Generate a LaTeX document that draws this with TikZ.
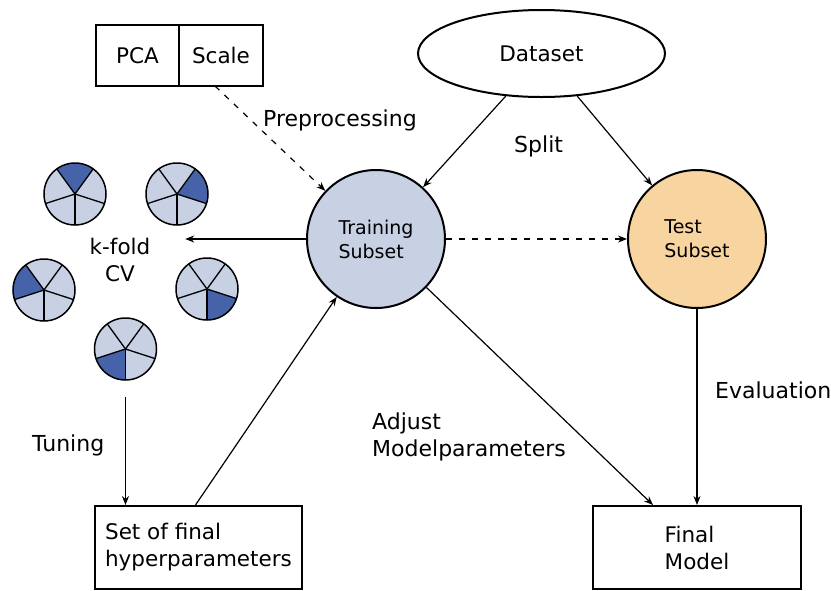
\documentclass[tikz,border=0pt]{standalone}
\usepackage{fontspec}
\setmainfont{DejaVu Sans}
\usetikzlibrary{shapes.geometric,arrows.meta,positioning}
\definecolor{trainblue}{HTML}{C8D0E4}
\definecolor{folddark}{HTML}{4662A8}
\definecolor{testorange}{HTML}{F8D4A0}
\tikzset{
  every node/.style={font=\fontsize{21.5}{27}\selectfont},
  box/.style={draw, rectangle, line width=2pt, align=left},
  subset/.style={draw, circle, line width=2pt, minimum size=138pt, align=left, font=\fontsize{19}{24}\selectfont},
  flow/.style={-{Stealth[length=9pt,width=7pt]}, line width=1.2pt},
  flowdash/.style={flow, dash pattern=on 6pt off 7pt},
  lbl/.style={inner sep=0pt, align=left, font=\fontsize{22}{27}\selectfont},
}
\begin{document}
\begin{tikzpicture}[x=1pt,y=1pt]
    \useasboundingbox (0,-590) rectangle (831,0);
    % preprocessing boxes and dataset
    \node[box, minimum width=83pt, minimum height=61pt, outer sep=0pt] (pca) at (137.5,-55.5) {PCA};
    \node[box, minimum width=84pt, minimum height=61pt, outer sep=0pt, right=0pt of pca] (scale) {Scale};
    \node[draw, ellipse, line width=2pt, minimum width=247pt, minimum height=87pt] (dataset) at (541.5,-53.5) {Dataset};
    % subsets
    \node[subset, fill=trainblue] (train) at (376,-239) {Training\\Subset};
    \node[subset, fill=testorange] (test) at (697,-239) {Test\\Subset};
    % cross validation folds
    \foreach \px/\py/\da in {75/-194/54, 177/-194/-18, 44/-290/126, 207/-289/270, 125.5/-349/198} {
      \fill[trainblue] (\px,\py) circle (31pt);
      \fill[folddark] (\px,\py) -- ++(\da:31pt) arc[start angle=\da, end angle=\da+72, radius=31pt] -- cycle;
      \foreach \a in {54,126,198,270,342}
        \draw[line width=1.3pt] (\px,\py) -- ++(\a:31pt);
      \draw[line width=1.5pt] (\px,\py) circle (31pt);
    }
    \node[minimum width=130pt, align=center] (kfold) at (120,-260) {k-fold\\CV};
    \coordinate (tunetop) at (125.5,-397);
    % results
    \node[box, minimum width=207pt, minimum height=83pt] (hyper) at (198.5,-547.5) {Set of final\\hyperparameters};
    \node[box, minimum width=208pt, minimum height=83pt] (final) at (697,-547.5) {Final\\Model};
    % connectors
    \draw[flow] (dataset.-130) -- (train);
    \draw[flow] (dataset.-50) -- (test);
    \draw[flowdash] ([xshift=-6pt]scale.south) -- (train);
    \draw[flowdash] (train) -- (test);
    \draw[flow] (train.west) -- (train.west -| kfold.east);
    \draw[flow] (tunetop) -- (tunetop |- hyper.north);
    \draw[flow] ([xshift=-3pt]hyper.north) -- (train);
    \draw[flow] (train) -- ([xshift=-44pt]final.north);
    \draw[flow] (test) -- (final);
    % labels
    \node[lbl, anchor=base west] (preplbl) at (263,-126) {Preprocessing};
    \node[lbl, anchor=base west] (splitlbl) at (514,-152) {Split};
    \node[lbl, anchor=base west] (tunelbl) at (32,-451) {Tuning};
    \node[lbl, anchor=west] (adjustlbl) at (372,-437) {Adjust\\Modelparameters};
    \node[lbl, anchor=base west] (evallbl) at (715,-398) {Evaluation};
\end{tikzpicture}
\end{document}
